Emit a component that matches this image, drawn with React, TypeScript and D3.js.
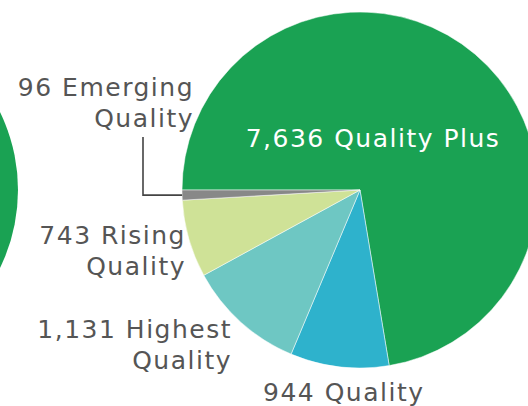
import * as d3 from 'd3';

const categories = ['Quality Plus', 'Quality', 'Highest Quality', 'Rising Quality', 'Emerging Quality'];
const values = [7636, 944, 1131, 743, 96];
const colors = ['#1aa253', '#2eb2cc', '#6ec7c3', '#cfe297', '#888888'];

// second chart, only its edge is visible on the left
const leftValues = [1];
const leftColors = ['#1aa253'];

const W = 528;
const H = 406;
const FONT = '"DejaVu Sans", "Open Sans", sans-serif';
const TEXT = '#555555';

export default function App() {
  const cx = 360;
  const cy = 190;
  const r = 178;

  const pie = d3.pie<number>().sort(null).value(d => d)
    .startAngle(-Math.PI / 2).endAngle(Math.PI * 1.5);
  const arcs = pie(values);
  const arc = d3.arc<d3.PieArcDatum<number>>().innerRadius(0).outerRadius(r);

  const leftArcs = d3.pie<number>().sort(null).value(d => d)(leftValues);

  const fmt = d3.format(',');

  // leader for the small grey slice
  const em = arcs[4];
  const mid = (em.startAngle + em.endAngle) / 2;
  const ex = cx + r * Math.sin(mid);
  const ey = cy - r * Math.cos(mid);

  const label = (x: number, y: number, lines: string[], anchor: string, fill = TEXT) => (
    <text x={x} y={y} textAnchor={anchor} fill={fill} fontFamily={FONT} fontSize={25}
      fontWeight={400} letterSpacing={1.5}>
      {lines.map((l, i) => (
        <tspan key={i} x={x} dy={i === 0 ? 0 : 31}>{l}</tspan>
      ))}
    </text>
  );

  return (
    <svg width={W} height={H} style={{ position: 'absolute', left: 0, top: 0, background: '#fff' }}>
      <g transform={`translate(${-160},${cy})`}>
        {leftArcs.map((a, i) => (
          <path key={i} d={arc(a) || ''} fill={leftColors[i]} />
        ))}
      </g>
      <g transform={`translate(${cx},${cy})`}>
        {arcs.map((a, i) => (
          <path key={i} d={arc(a) || ''} fill={colors[i]} stroke="#fff" strokeWidth={0.5} />
        ))}
      </g>
      <polyline
        points={`143,137 143,${ey.toFixed(1)} ${ex.toFixed(1)},${ey.toFixed(1)}`}
        fill="none" stroke="#444" strokeWidth={1.6}
      />
      {label(373, 147, [`${fmt(values[0])} ${categories[0]}`], 'middle', '#ffffff')}
      {label(194, 96, [`${fmt(values[4])} Emerging`, 'Quality'], 'end')}
      {label(186, 244, [`${fmt(values[3])} Rising`, 'Quality'], 'end')}
      {label(232, 338, [`${fmt(values[2])} Highest`, 'Quality'], 'end')}
      {label(263, 401, [`${fmt(values[1])} Quality`], 'start')}
    </svg>
  );
}
